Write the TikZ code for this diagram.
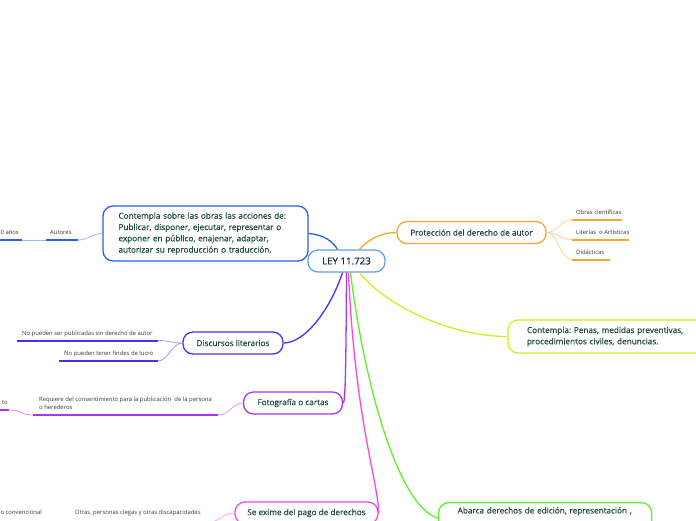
\documentclass[tikz,border=0pt]{standalone}
\usepackage{fontspec}
\setmainfont{Open Sans}
\newfontfamily\boxfont{Open Sans}[FakeBold=0.4]
\definecolor{txt}{HTML}{1D4A3C}
\definecolor{navy}{HTML}{1A2B4C}
\definecolor{leaftxt}{HTML}{3A3A3A}
\definecolor{cblue}{HTML}{2B5FE8}
\definecolor{ccenter}{HTML}{5FA3DC}
\definecolor{corange}{HTML}{F7A731}
\definecolor{cyellow}{HTML}{D3EE1C}
\definecolor{cviolet}{HTML}{4F2EF2}
\definecolor{cpurple}{HTML}{A935EE}
\definecolor{cmagenta}{HTML}{FF45E2}
\definecolor{cgreen}{HTML}{62EE2E}
\tikzset{
  box/.style={draw, rounded corners=10pt, line width=1.3pt, fill=white, text=txt,
    font=\boxfont\fontsize{8.2}{11.3}\selectfont, inner sep=0pt},
  leaf/.style={text=leaftxt, font=\fontsize{5.9}{8}\selectfont, inner sep=0pt, align=left},
  conn/.style={line width=1.3pt},
  lconn/.style={line width=0.8pt},
  ul/.style={line width=2pt},
}
\frenchspacing
\begin{document}
\begin{tikzpicture}[x=1pt,y=-1pt]
\path[use as bounding box, fill=white] (0,0) rectangle (696,520);

% main nodes
\node[box, draw=ccenter, text=navy, minimum width=77pt, minimum height=22pt,
  font=\boxfont\fontsize{9.7}{11}\selectfont] (ley) at (346.5,261) {LEY 11.723};
\node[box, draw=cblue, minimum width=205pt, minimum height=55pt, align=left,
  text width=174pt, inner xsep=15pt] (cont) at (205.5,233.5)
  {Contempla sobre las obras las acciones de:\\Publicar, disponer, ejecutar, representar o\\exponer en público, enajenar, adaptar,\\autorizar su reproducción o traducción.};
\node[box, draw=corange, minimum width=149pt, minimum height=22pt] (prot) at (471.5,232.5)
  {Protección del derecho de autor};
\node[box, draw=cyellow, minimum width=200pt, minimum height=33pt, align=left,
  text width=162pt, inner xsep=19pt] (penas) at (608,336.5)
  {Contempla: Penas, medidas preventivas,\\procedimientos civiles, denuncias.};
\node[box, draw=cviolet, minimum width=100pt, minimum height=22pt] (disc) at (233,343)
  {Discursos literarios};
\node[box, draw=cpurple, minimum width=99pt, minimum height=22pt] (foto) at (293,403)
  {Fotografía o cartas};
\node[box, draw=cmagenta, minimum width=143pt, minimum height=22pt] (exime) at (306.5,513)
  {Se exime del pago de derechos};
\node[box, draw=cgreen, anchor=north west, align=left, text width=175pt,
  inner xsep=19pt, inner ysep=4.5pt, text depth=16pt] (abarca) at (438,502)
  {Abarca derechos de edición, representación ,};
\coordinate (abin) at (438,518);

% main connectors
\draw[conn, cblue] (cont.east) .. controls (325,235) and (333,242) .. ([xshift=-9pt]ley.north);
\draw[conn, corange] ([xshift=13pt]ley.north) .. controls (368,240) and (380,232.5) .. (prot.west);
\draw[conn, cyellow] ([xshift=13pt]ley.south) .. controls (385,305) and (450,336.5) .. (penas.west);
\draw[conn, cviolet] ([xshift=-4pt]ley.south) .. controls (330,310) and (305,343) .. (disc.east);
\draw[conn, cpurple] (ley.south) .. controls (346,380) and (345,403) .. (foto.east);
\draw[conn, cmagenta] ([xshift=2pt]ley.south) .. controls (355,420) and (378,480) .. (exime.east);
\draw[conn, cgreen] ([xshift=4pt]ley.south) .. controls (365,390) and (400,508) .. (abin);

% blue leaves
\node[leaf, anchor=base east] (a1) at (19,234.5) {0 años};
\node[leaf, anchor=base west] (a2) at (50,234.5) {Autores};
\coordinate (a1l) at (-2,240); \coordinate (a1r) at (22,240);
\coordinate (a2l) at (46,240); \coordinate (a2r) at (78,240);
\draw[ul, cblue] (a1l) -- (a1r);
\draw[ul, cblue] (a2l) -- (a2r);
\draw[lconn, cblue!45] (cont.west) .. controls (92,233.5) and (88,240) .. (a2r);
\draw[lconn, cblue!45] (a2l) -- (a1r);

% orange leaves
\node[leaf, anchor=base west] (o1) at (576,214) {Obras científicas};
\node[leaf, anchor=base west] (o2) at (576,234) {Literias~\ o Artísticas};
\node[leaf, anchor=base west] (o3) at (576,254) {Didácticas};
\coordinate (o1l) at (572,219.5); \coordinate (o1r) at (622,219.5);
\coordinate (o2l) at (572,239.5); \coordinate (o2r) at (629,239.5);
\coordinate (o3l) at (572,259.5); \coordinate (o3r) at (610,259.5);
\draw[ul, corange] (o1l) -- (o1r);
\draw[ul, corange] (o2l) -- (o2r);
\draw[ul, corange] (o3l) -- (o3r);
\draw[lconn, corange!50] (prot.east) .. controls (558,232.5) and (560,219.5) .. (o1l);
\draw[lconn, corange!50] (prot.east) .. controls (558,232.5) and (560,239.5) .. (o2l);
\draw[lconn, corange!50] (prot.east) .. controls (558,232.5) and (560,259.5) .. (o3l);

% discursos leaves
\node[leaf, anchor=base west] (d1) at (22,335) {No pueden ser publicadas sin derecho de autor};
\node[leaf, anchor=base west] (d2) at (64,355.5) {No pueden tener findes de lucro};
\coordinate (d1l) at (17,340.5); \coordinate (d1r) at (158,340.5);
\coordinate (d2l) at (59,361); \coordinate (d2r) at (158,361);
\draw[ul, cviolet] (d1l) -- (d1r);
\draw[ul, cviolet] (d2l) -- (d2r);
\draw[lconn, cviolet!50] (disc.west) .. controls (170,343) and (170,340.5) .. (d1r);
\draw[lconn, cviolet!50] (disc.west) .. controls (172,343) and (168,361) .. (d2r);

% foto leaves
\node[leaf, anchor=west] (f1) at (39,403.5) {Requiere del consentimiento para la publicación~\ de la persona\\o herederos};
\node[leaf, anchor=base east] (f0) at (8,404.5) {to};
\coordinate (f1l) at (33,415); \coordinate (f1r) at (218,415);
\coordinate (f0l) at (-2,410); \coordinate (f0r) at (9,410);
\draw[ul, cpurple] (f1l) -- (f1r);
\draw[ul, cpurple] (f0l) -- (f0r);
\draw[lconn, cpurple!50] (foto.west) .. controls (232,403) and (230,415) .. (f1r);
\draw[lconn, cpurple!50] (f1l) .. controls (20,415) and (22,410) .. (f0r);

% exime leaves
\node[leaf, anchor=base west] (e1) at (75,514.5) {Otras, personas ciegas y otras discapacidades};
\node[leaf, anchor=base east] (e0) at (42,514.5) {o convencional};
\coordinate (e1l) at (71,522.5); \coordinate (e1r) at (207,522.5);
\coordinate (e0l) at (-2,522.5); \coordinate (e0r) at (46,522.5);
\draw[ul, cmagenta] (e1l) -- (e1r);
\draw[ul, cmagenta] (e0l) -- (e0r);
\draw[lconn, cmagenta!50] (exime.west) .. controls (222,513) and (220,522.5) .. (e1r);
\end{tikzpicture}
\end{document}
